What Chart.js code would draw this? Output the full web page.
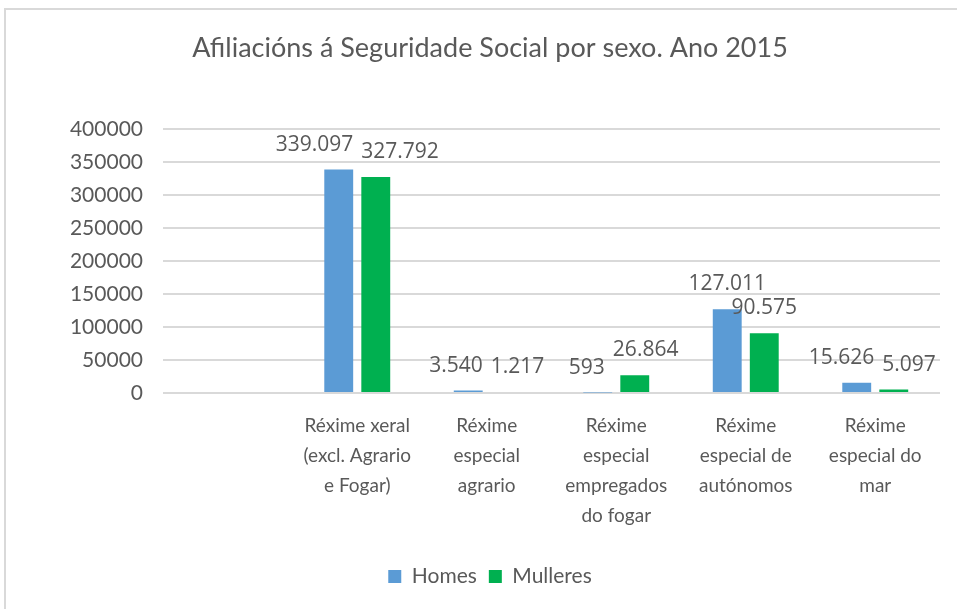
<!DOCTYPE html>
<html lang="gl">
<head>
    <meta charset="UTF-8">
    <title>Afiliacións á Seguridade Social por sexo</title>
    <script src="https://cdn.jsdelivr.net/npm/chart.js@4.4.0/dist/chart.umd.min.js"></script>
    <style>
        html, body {
            margin: 0;
            padding: 0;
            background: #ffffff;
        }
        .wrap {
            position: relative;
            width: 957px;
            height: 609px;
            overflow: hidden;
        }
        .frame {
            position: absolute;
            left: 4px;
            top: 8px;
            width: 980px;
            height: 640px;
            border: 2px solid #d9d9d9;
            pointer-events: none;
        }
    </style>
</head>
<body>
<div class="wrap">
    <canvas id="myChart" width="957" height="609"></canvas>
    <div class="frame"></div>
</div>

<script>
    var chartTitle = "Afiliacións á Seguridade Social por sexo. Ano 2015";
    var categories = [
        "",
        ["Réxime xeral", "(excl. Agrario", "e Fogar)"],
        ["Réxime", "especial", "agrario"],
        ["Réxime", "especial", "empregados", "do fogar"],
        ["Réxime", "especial de", "autónomos"],
        ["Réxime", "especial do", "mar"]
    ];
    var homes = [null, 339097, 3540, 593, 127011, 15626];
    var mulleres = [null, 327792, 1217, 26864, 90575, 5097];
    var yTicks = [0, 50000, 100000, 150000, 200000, 250000, 300000, 350000, 400000];

    var textColor = "#595959";

    // thousands with a dot, like the original sheet
    function fmt(v) {
        return String(v).replace(/\B(?=(\d{3})+(?!\d))/g, ".");
    }

    // labels above the bars; when the two labels of a category collide
    // they are pushed apart sideways
    var valueLabels = {
        id: "valueLabels",
        afterDatasetsDraw: function(chart) {
            var ctx = chart.ctx;
            var lift = 25, textH = 20, gap = 8;
            ctx.save();
            ctx.font = "21px 'Open Sans'";
            ctx.fillStyle = textColor;
            ctx.textBaseline = "middle";
            ctx.textAlign = "center";
            var m0 = chart.getDatasetMeta(0).data;
            var m1 = chart.getDatasetMeta(1).data;
            for (var j = 0; j < categories.length; j++) {
                if (homes[j] === null) continue;
                var a = {t: fmt(homes[j]), x: m0[j].x, y: m0[j].y - lift};
                var b = {t: fmt(mulleres[j]), x: m1[j].x, y: m1[j].y - lift};
                a.w = ctx.measureText(a.t).width;
                b.w = ctx.measureText(b.t).width;
                var need = (a.w + b.w) / 2 + gap;
                var dist = b.x - a.x;
                if (Math.abs(a.y - b.y) < textH && dist < need) {
                    var push = (need - dist) / 2;
                    a.x -= push;
                    b.x += push;
                }
                ctx.fillText(a.t, a.x, a.y);
                ctx.fillText(b.t, b.x, b.y);
            }
            ctx.restore();
        }
    };

    var ctx = document.getElementById("myChart").getContext("2d");
    var myChart = new Chart(ctx, {
        type: "bar",
        data: {
            labels: categories,
            datasets: [
                {
                    label: "Homes",
                    data: homes,
                    backgroundColor: "#5b9bd5",
                    categoryPercentage: 0.572,
                    barPercentage: 0.78
                },
                {
                    label: "Mulleres",
                    data: mulleres,
                    backgroundColor: "#00b050",
                    categoryPercentage: 0.572,
                    barPercentage: 0.78
                }
            ]
        },
        options: {
            responsive: false,
            animation: false,
            layout: {
                padding: {left: 40, right: 17, top: 0, bottom: 12}
            },
            plugins: {
                title: {
                    display: true,
                    text: chartTitle,
                    color: textColor,
                    font: {family: "Lato", size: 27, weight: "normal"},
                    padding: {top: 32, bottom: 65}
                },
                legend: {
                    position: "bottom",
                    labels: {
                        color: textColor,
                        font: {family: "Lato", size: 21},
                        boxWidth: 13,
                        boxHeight: 13,
                        padding: 12
                    }
                },
                tooltip: {enabled: false}
            },
            scales: {
                x: {
                    grid: {display: false},
                    border: {display: false},
                    afterFit: function(scale) {
                        scale.height += 13;
                    },
                    ticks: {
                        color: textColor,
                        font: {family: "Lato", size: 19, lineHeight: 1.58},
                        maxRotation: 0,
                        autoSkip: false,
                        padding: 10
                    }
                },
                y: {
                    min: 0,
                    max: 400000,
                    afterFit: function(scale) {
                        scale.width = 123;
                    },
                    afterBuildTicks: function(scale) {
                        scale.ticks = yTicks.map(function(v) { return {value: v}; });
                    },
                    grid: {color: "#d9d9d9", lineWidth: 2, drawTicks: false},
                    border: {display: false},
                    ticks: {
                        color: textColor,
                        font: {family: "Lato", size: 21},
                        padding: 20,
                        callback: function(v) { return String(v); }
                    }
                }
            }
        },
        plugins: [valueLabels]
    });
</script>
</body>
</html>
